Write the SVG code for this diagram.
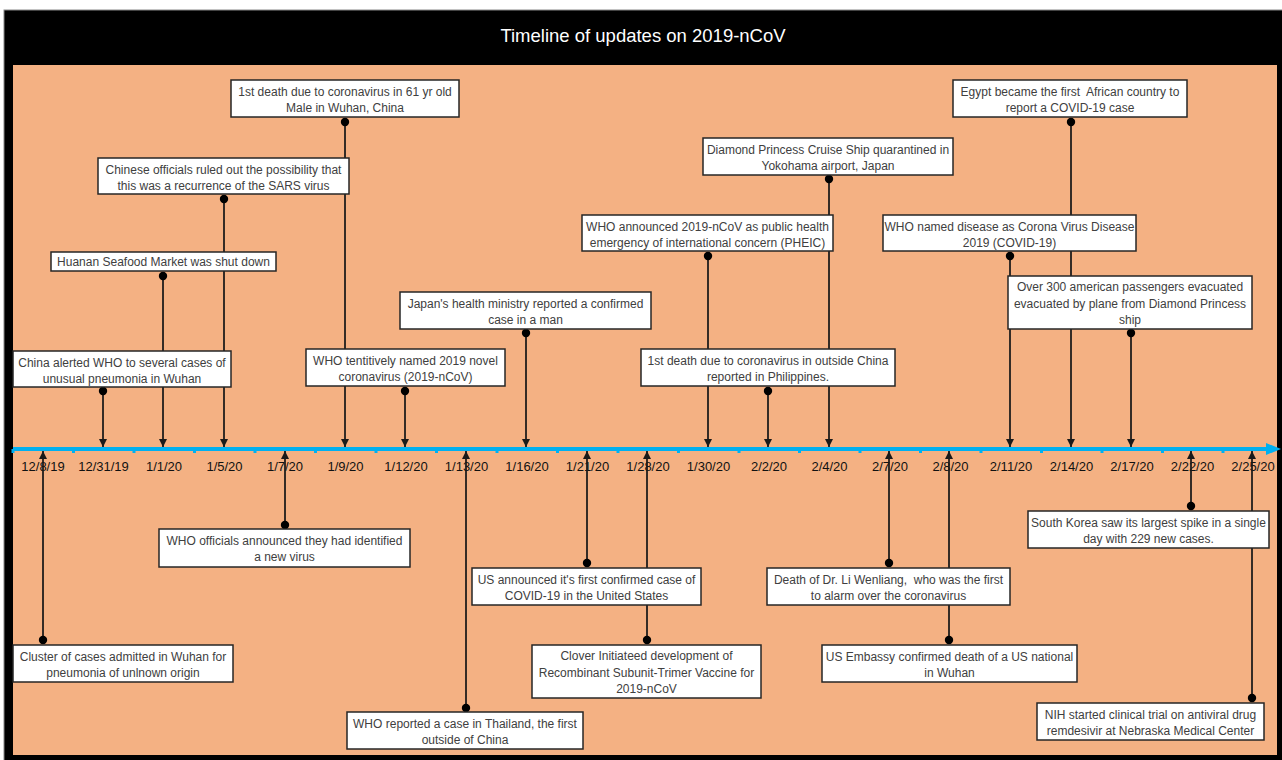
<svg xmlns="http://www.w3.org/2000/svg" width="1282" height="760" viewBox="0 0 1282 760">
<style>
.box{fill:#fff;stroke:#262626;stroke-width:1.5}
.t{font-family:"Liberation Sans",Arial,sans-serif;font-size:12px;fill:#404040;text-anchor:middle;white-space:pre}
.d{font-family:"Liberation Sans",Arial,sans-serif;font-size:13px;fill:#111;text-anchor:middle}
.c{stroke:#1a1a1a;stroke-width:1.75;fill:none;marker-start:url(#dot);marker-end:url(#arr)}
.tick{fill:#00B0F0}
</style>
<defs>
<marker id="arr" markerUnits="userSpaceOnUse" viewBox="0 0 8 8" refX="8" refY="4" markerWidth="8" markerHeight="8" orient="auto"><path d="M0,0 L8,4 L0,8 z" fill="#1a1a1a"/></marker>
<marker id="dot" markerUnits="userSpaceOnUse" viewBox="-5 -5 10 10" refX="0" refY="0" markerWidth="10" markerHeight="10" orient="auto"><circle r="4.2" fill="#000"/></marker>
</defs>
<rect x="0" y="0" width="1282" height="760" fill="#fff"/>
<rect x="4" y="10" width="1282" height="760" fill="#000" stroke="#888" stroke-width="1"/>
<rect x="13" y="65" width="1264" height="690" fill="#F4B183"/>
<text x="643" y="42" font-family="Liberation Sans,Arial,sans-serif" font-size="18.5" fill="#fff" text-anchor="middle">Timeline of updates on 2019-nCoV</text>

<g id="axis">
<line x1="13" y1="449" x2="1268" y2="449" stroke="#00B0F0" stroke-width="4"/>
<polygon points="1266,443 1281,449 1266,455" fill="#00B0F0"/>
<g class="tick">
<rect x="11.5" y="449" width="3" height="4"/><rect x="72" y="449" width="3" height="4"/><rect x="132.5" y="449" width="3" height="4"/><rect x="193" y="449" width="3" height="4"/><rect x="253.5" y="449" width="3" height="4"/><rect x="314" y="449" width="3" height="4"/><rect x="374.5" y="449" width="3" height="4"/><rect x="435" y="449" width="3" height="4"/><rect x="495.5" y="449" width="3" height="4"/><rect x="556" y="449" width="3" height="4"/><rect x="616.5" y="449" width="3" height="4"/><rect x="677" y="449" width="3" height="4"/><rect x="737.5" y="449" width="3" height="4"/><rect x="798" y="449" width="3" height="4"/><rect x="858.5" y="449" width="3" height="4"/><rect x="919" y="449" width="3" height="4"/><rect x="979.5" y="449" width="3" height="4"/><rect x="1040" y="449" width="3" height="4"/><rect x="1100.5" y="449" width="3" height="4"/><rect x="1161" y="449" width="3" height="4"/><rect x="1221.5" y="449" width="3" height="4"/>
</g>
<g id="dates">
<text class="d" x="43" y="471">12/8/19</text><text class="d" x="103.5" y="471">12/31/19</text><text class="d" x="164" y="471">1/1/20</text><text class="d" x="224.5" y="471">1/5/20</text><text class="d" x="285" y="471">1/7/20</text><text class="d" x="345.5" y="471">1/9/20</text><text class="d" x="406" y="471">1/12/20</text><text class="d" x="466.5" y="471">1/13/20</text><text class="d" x="527" y="471">1/16/20</text><text class="d" x="587.5" y="471">1/21/20</text><text class="d" x="648" y="471">1/28/20</text><text class="d" x="708.5" y="471">1/30/20</text><text class="d" x="769" y="471">2/2/20</text><text class="d" x="829.5" y="471">2/4/20</text><text class="d" x="890" y="471">2/7/20</text><text class="d" x="950.5" y="471">2/8/20</text><text class="d" x="1011" y="471">2/11/20</text><text class="d" x="1071.5" y="471">2/14/20</text><text class="d" x="1132" y="471">2/17/20</text><text class="d" x="1192.5" y="471">2/22/20</text><text class="d" x="1253" y="471">2/25/20</text>
</g>
</g>

<g id="connectors">
<line class="c" x1="103" y1="391" x2="103" y2="447"/>
<line class="c" x1="163" y1="276" x2="163" y2="447"/>
<line class="c" x1="224" y1="199" x2="224" y2="447"/>
<line class="c" x1="345" y1="122" x2="345" y2="447"/>
<line class="c" x1="405" y1="391" x2="405" y2="447"/>
<line class="c" x1="526" y1="333" x2="526" y2="447"/>
<line class="c" x1="708" y1="256" x2="708" y2="447"/>
<line class="c" x1="768" y1="391" x2="768" y2="447"/>
<line class="c" x1="829" y1="179" x2="829" y2="447"/>
<line class="c" x1="1010" y1="256" x2="1010" y2="447"/>
<line class="c" x1="1071" y1="122" x2="1071" y2="447"/>
<line class="c" x1="1131" y1="333" x2="1131" y2="447"/>
<line class="c" x1="43" y1="640" x2="43" y2="451"/>
<line class="c" x1="285" y1="525" x2="285" y2="451"/>
<line class="c" x1="466" y1="708" x2="466" y2="451"/>
<line class="c" x1="587" y1="563" x2="587" y2="451"/>
<line class="c" x1="647" y1="640" x2="647" y2="451"/>
<line class="c" x1="889" y1="563" x2="889" y2="451"/>
<line class="c" x1="949" y1="640" x2="949" y2="451"/>
<line class="c" x1="1191" y1="506" x2="1191" y2="451"/>
<line class="c" x1="1252" y1="698" x2="1252" y2="451"/>
</g>

<g id="n-china-alerted"><rect class="box" x="13" y="351" width="218" height="36"/><text class="t" x="122" y="366.5">China alerted WHO to several cases of</text><text class="t" x="122" y="382.5">unusual pneumonia in Wuhan</text></g>
<g id="n-huanan"><rect class="box" x="51" y="252" width="225" height="19"/><text class="t" x="163.5" y="265.5">Huanan Seafood Market was shut down</text></g>
<g id="n-sars"><rect class="box" x="98" y="158" width="251" height="36"/><text class="t" x="223.5" y="173.5">Chinese officials ruled out the possibility that</text><text class="t" x="223.5" y="189.5">this was a recurrence of the SARS virus</text></g>
<g id="n-first-death"><rect class="box" x="231" y="80" width="228" height="37"/><text class="t" x="345" y="95.5">1st death due to coronavirus in 61 yr old</text><text class="t" x="345" y="111.5">Male in Wuhan, China</text></g>
<g id="n-named-ncov"><rect class="box" x="306" y="349" width="199" height="37"/><text class="t" x="405.5" y="364.5">WHO tentitively named 2019 novel</text><text class="t" x="405.5" y="380.5">coronavirus (2019-nCoV)</text></g>
<g id="n-japan"><rect class="box" x="400" y="292" width="251" height="37"/><text class="t" x="525.5" y="307.5">Japan's health ministry reported a confirmed</text><text class="t" x="525.5" y="323.5">case in a man</text></g>
<g id="n-pheic"><rect class="box" x="582" y="215" width="251" height="36"/><text class="t" x="707.5" y="230.5">WHO announced 2019-nCoV as public health</text><text class="t" x="707.5" y="246.5">emergency of international concern (PHEIC)</text></g>
<g id="n-philippines"><rect class="box" x="641" y="349" width="254" height="37"/><text class="t" x="768" y="364.5">1st death due to coronavirus in outside China</text><text class="t" x="768" y="380.5">reported in Philippines.</text></g>
<g id="n-diamond"><rect class="box" x="703" y="138" width="250" height="37"/><text class="t" x="828" y="153.5">Diamond Princess Cruise Ship quarantined in</text><text class="t" x="828" y="169.5">Yokohama airport, Japan</text></g>
<g id="n-covid19"><rect class="box" x="883" y="215" width="253" height="36"/><text class="t" x="1009.5" y="230.5">WHO named disease as Corona Virus Disease</text><text class="t" x="1009.5" y="246.5">2019 (COVID-19)</text></g>
<g id="n-egypt"><rect class="box" x="953" y="80" width="234" height="37"/><text class="t" x="1070" y="95.5">Egypt became the first  African country to</text><text class="t" x="1070" y="111.5">report a COVID-19 case</text></g>
<g id="n-evacuated"><rect class="box" x="1008" y="276" width="244" height="53"/><text class="t" x="1130" y="291">Over 300 american passengers evacuated</text><text class="t" x="1130" y="307.5">evacuated by plane from Diamond Princess</text><text class="t" x="1130" y="324">ship</text></g>

<g id="n-cluster"><rect class="box" x="13" y="645" width="220" height="37"/><text class="t" x="123" y="660.5">Cluster of cases admitted in Wuhan for</text><text class="t" x="123" y="676.5">pneumonia of unlnown origin</text></g>
<g id="n-new-virus"><rect class="box" x="159" y="529" width="251" height="38"/><text class="t" x="284.5" y="545">WHO officials announced they had identified</text><text class="t" x="284.5" y="561">a new virus</text></g>
<g id="n-thailand"><rect class="box" x="347" y="712" width="236" height="37"/><text class="t" x="465" y="727.5">WHO reported a case in Thailand, the first</text><text class="t" x="465" y="743.5">outside of China</text></g>
<g id="n-us-case"><rect class="box" x="472" y="568" width="229" height="37"/><text class="t" x="586.5" y="583.5">US announced it's first confirmed case of</text><text class="t" x="586.5" y="599.5">COVID-19 in the United States</text></g>
<g id="n-clover"><rect class="box" x="532" y="645" width="229" height="53"/><text class="t" x="646.5" y="660">Clover Initiateed development of</text><text class="t" x="646.5" y="676.5">Recombinant Subunit-Trimer Vaccine for</text><text class="t" x="646.5" y="693">2019-nCoV</text></g>
<g id="n-li-wenliang"><rect class="box" x="767" y="568" width="243" height="37"/><text class="t" x="888.5" y="583.5">Death of Dr. Li Wenliang,  who was the first</text><text class="t" x="888.5" y="599.5">to alarm over the coronavirus</text></g>
<g id="n-us-embassy"><rect class="box" x="822" y="645" width="255" height="37"/><text class="t" x="949.5" y="660.5">US Embassy confirmed death of a US national</text><text class="t" x="949.5" y="676.5">in Wuhan</text></g>
<g id="n-south-korea"><rect class="box" x="1028" y="511" width="241" height="37"/><text class="t" x="1148.5" y="526.5">South Korea saw its largest spike in a single</text><text class="t" x="1148.5" y="542.5">day with 229 new cases.</text></g>
<g id="n-nih"><rect class="box" x="1037" y="703" width="227" height="37"/><text class="t" x="1150.5" y="718.5">NIH started clinical trial on antiviral drug</text><text class="t" x="1150.5" y="734.5">remdesivir at Nebraska Medical Center</text></g>
</svg>
